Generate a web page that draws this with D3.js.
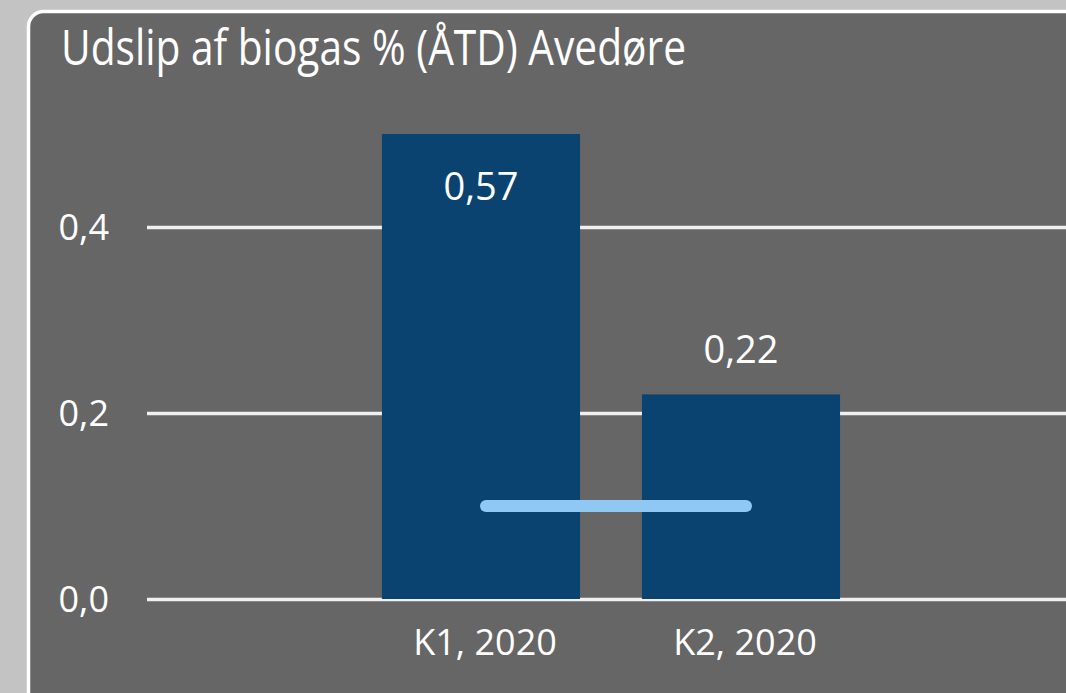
<!DOCTYPE html>
<html>
<head>
<meta charset="utf-8">
<script src="https://cdn.jsdelivr.net/npm/d3@7"></script>
<style>
  html, body { margin: 0; padding: 0; background: #c3c3c3; overflow: hidden; }
  svg text { font-family: "Open Sans", sans-serif; fill: #ffffff; }
</style>
</head>
<body>
<div id="chart"></div>
<script>
const categories = ["K1, 2020", "K2, 2020"];
const values = [0.57, 0.22];
const valueLabels = ["0,57", "0,22"];
const target = [0.1, 0.1];
const yTicks = [0, 0.2, 0.4];
const title = "Udslip af biogas % (ÅTD) Avedøre";

const W = 1066, H = 693;

const svg = d3.select("#chart")
    .append("svg")
    .attr("width", W)
    .attr("height", H);

// panel with white border, runs past right and bottom edges
svg.append("rect")
    .attr("x", 28.5)
    .attr("y", 11.5)
    .attr("width", W + 40)
    .attr("height", H + 40)
    .attr("rx", 15)
    .attr("fill", "#666666")
    .attr("stroke", "#ffffff")
    .attr("stroke-width", 3.5);

svg.append("text")
    .attr("x", 61)
    .attr("y", 65)
    .attr("font-size", 50)
    .attr("textLength", 625)
    .attr("lengthAdjust", "spacingAndGlyphs")
    .text(title);

const x = d3.scaleBand()
    .domain(categories)
    .range([351, 871])
    .paddingInner(0.238)
    .paddingOuter(0.119);

const y = d3.scaleLinear()
    .domain([0, 0.5])
    .range([599, 134])
    .clamp(true);

// gridlines + tick labels
const grid = svg.append("g")
    .attr("transform", "translate(147,0)")
    .call(d3.axisLeft(y).tickValues(yTicks).tickSize(-(W - 147)).tickFormat(d => d3.format(".1f")(d).replace(".", ",")));
grid.select(".domain").remove();
grid.selectAll(".tick line")
    .attr("stroke", "#f0f0f0")
    .attr("stroke-width", 3.5);
grid.selectAll(".tick text")
    .attr("x", -38)
    .attr("y", 0)
    .attr("dy", "0.36em")
    .attr("font-size", 36)
    .attr("fill", "#ffffff");

svg.selectAll(".bar")
    .data(categories)
    .join("rect")
    .attr("class", "bar")
    .attr("x", d => x(d))
    .attr("y", (d, i) => y(values[i]))
    .attr("width", x.bandwidth())
    .attr("height", (d, i) => y(0) - y(values[i]))
    .attr("fill", "#0a436f");

// value labels: inside top when bar is clipped, above otherwise
svg.selectAll(".vlab")
    .data(categories)
    .join("text")
    .attr("class", "vlab")
    .attr("x", d => x(d) + x.bandwidth() / 2)
    .attr("y", (d, i) => values[i] > y.domain()[1] ? y(values[i]) + 66 : y(values[i]) - 31)
    .attr("text-anchor", "middle")
    .attr("font-size", 38)
    .text((d, i) => valueLabels[i]);

// x axis labels
svg.selectAll(".xlab")
    .data(categories)
    .join("text")
    .attr("class", "xlab")
    .attr("x", d => x(d) + x.bandwidth() / 2 + 4)
    .attr("y", 655)
    .attr("text-anchor", "middle")
    .attr("font-size", 36)
    .text(d => d);

// target line
const line = d3.line()
    .x((d, i) => x(categories[i]) + x.bandwidth() / 2 + 5)
    .y(d => y(d));

svg.append("path")
    .datum(target)
    .attr("d", line)
    .attr("fill", "none")
    .attr("stroke", "#8ec8f3")
    .attr("stroke-width", 12)
    .attr("stroke-linecap", "round");
</script>
</body>
</html>
